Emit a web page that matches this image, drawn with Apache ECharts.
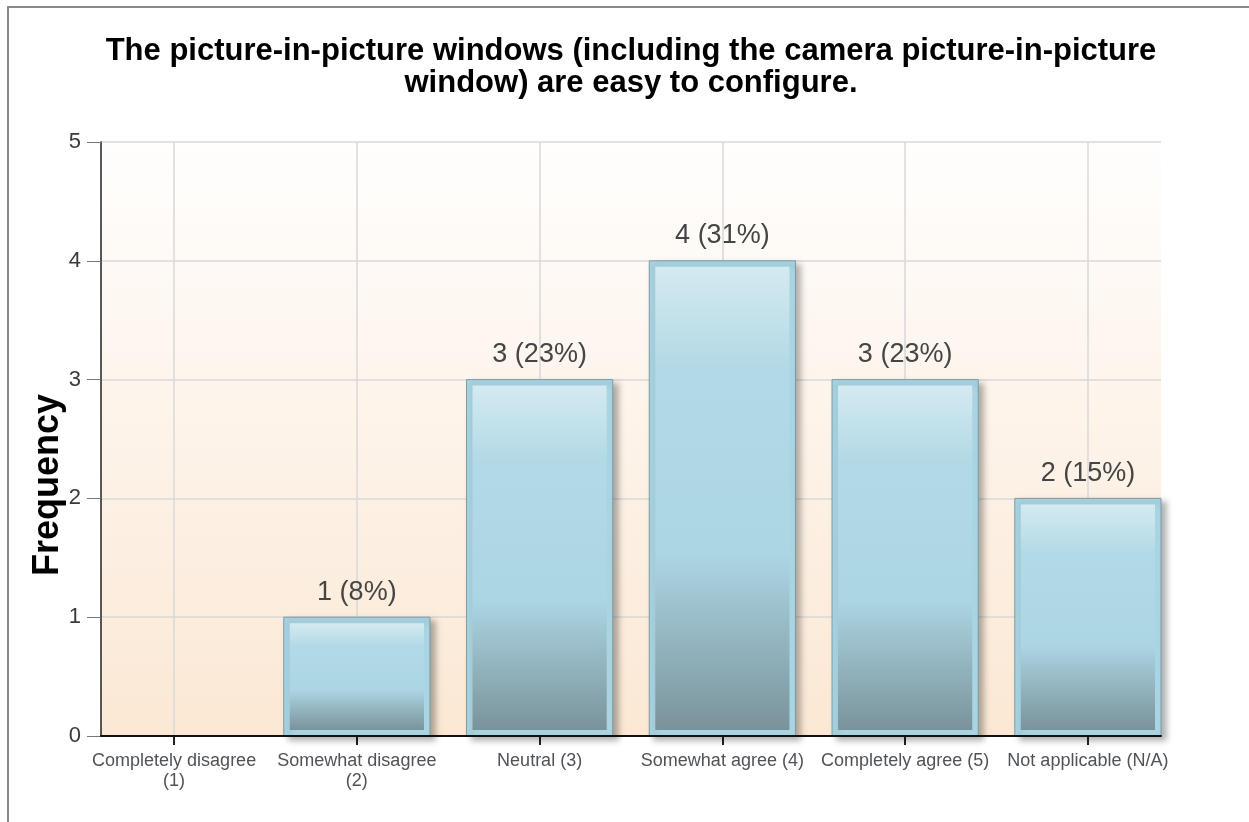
<!DOCTYPE html>
<html>
<head>
<meta charset="utf-8">
<script src="https://cdn.jsdelivr.net/npm/echarts@6/dist/echarts.min.js"></script>
<style>
  html, body { margin: 0; padding: 0; background: #ffffff; }
  #chart { width: 1249px; height: 822px; }
</style>
</head>
<body>
<div id="chart"></div>
<script>
// Survey answer categories, in display order
const categories = [
  'Completely disagree\n(1)',
  'Somewhat disagree\n(2)',
  'Neutral (3)',
  'Somewhat agree (4)',
  'Completely agree (5)',
  'Not applicable (N/A)'
];
// Number of respondents per answer
const frequencies = [0, 1, 3, 4, 3, 2];
// Share of respondents per answer, as printed above each bar
const percents = [0, 8, 23, 31, 23, 15];
// Frequency axis ticks
const yTicks = [0, 1, 2, 3, 4, 5];

const titleText = 'The picture-in-picture windows (including the camera picture-in-picture\nwindow) are easy to configure.';
const fontFamily = '"Liberation Sans", Arial, Helvetica, sans-serif';

const positions = categories.map((_, i) => i);
const barData = frequencies.map((v, i) => [i, v, percents[i]]);

// Framed bar: light-blue rim, gradient face, soft drop shadow, value label on top
function renderBar(params, api) {
  const v = api.value(1);
  if (!(v > 0)) return null;
  const x = api.value(0);
  const top = api.coord([x, v]);
  const base = api.coord([x, 0]);
  const w = api.size([0.8, 0])[0];
  const left = top[0] - w / 2;
  const h = base[1] - top[1];
  const inset = 6;
  return {
    type: 'group',
    children: [
      {
        type: 'rect',
        shape: { x: left, y: top[1], width: w, height: h },
        style: {
          fill: '#a9d5e3',
          stroke: '#7f9ba5',
          lineWidth: 1,
          shadowBlur: 6,
          shadowOffsetX: 5,
          shadowOffsetY: 4,
          shadowColor: 'rgba(0,0,0,0.3)'
        }
      },
      {
        type: 'rect',
        shape: { x: left + inset, y: top[1] + inset, width: w - 2 * inset, height: h - 2 * inset },
        style: {
          fill: new echarts.graphic.LinearGradient(0, 0, 0, 1, [
            { offset: 0, color: '#d4eaf1' },
            { offset: 0.22, color: '#b2d9e6' },
            { offset: 0.62, color: '#acd6e4' },
            { offset: 1, color: '#7a939b' }
          ])
        }
      },
      {
        type: 'text',
        x: top[0],
        y: top[1] - 25,
        style: {
          text: v + ' (' + api.value(2) + '%)',
          fontSize: 27,
          fontFamily: fontFamily,
          fill: '#454545',
          align: 'center',
          verticalAlign: 'middle'
        }
      }
    ]
  };
}

const chart = echarts.init(document.getElementById('chart'), null, { renderer: 'canvas' });

chart.setOption({
  animation: false,
  backgroundColor: '#ffffff',
  title: {
    text: titleText,
    left: 631,
    top: 35,
    textAlign: 'center',
    padding: 0,
    textStyle: {
      fontFamily: fontFamily,
      fontSize: 31,
      fontWeight: 'bold',
      color: '#000000',
      lineHeight: 32
    }
  },
  graphic: [
    {
      type: 'polyline',
      shape: { points: [[8, 822], [8, 7], [1249, 7]] },
      style: { stroke: '#8a8a8a', lineWidth: 2, fill: null },
      silent: true
    }
  ],
  grid: {
    left: 101,
    top: 142,
    width: 1060,
    height: 594,
    show: true,
    borderWidth: 0,
    backgroundColor: new echarts.graphic.LinearGradient(0, 0, 0, 1, [
      { offset: 0, color: '#fffefd' },
      { offset: 1, color: '#fbe8d4' }
    ])
  },
  xAxis: [
    {
      type: 'value',
      min: -0.4,
      max: 5.4,
      axisLine: { show: false, onZero: false },
      axisTick: {
        show: true,
        customValues: positions,
        length: 9,
        lineStyle: { color: '#222222', width: 2 }
      },
      axisLabel: {
        customValues: positions,
        formatter: (val) => categories[Math.round(val)],
        margin: 15,
        fontFamily: fontFamily,
        fontSize: 18,
        lineHeight: 20,
        color: '#4f5358',
        align: 'center'
      },
      splitLine: {
        show: true,
        lineStyle: { color: '#d9d9d9', width: 1.5 }
      }
    },
    {
      type: 'value',
      position: 'bottom',
      min: -0.4,
      max: 5.4,
      z: 10,
      silent: true,
      axisLine: { show: true, onZero: false, lineStyle: { color: '#111111', width: 2 } },
      axisTick: { show: false },
      axisLabel: { show: false },
      splitLine: { show: false }
    }
  ],
  yAxis: {
    type: 'value',
    min: yTicks[0],
    max: yTicks[yTicks.length - 1],
    interval: 1,
    name: 'Frequency',
    nameLocation: 'middle',
    nameRotate: 90,
    nameGap: 35,
    nameMoveOverlap: false,
    nameTextStyle: {
      fontFamily: fontFamily,
      fontSize: 36,
      fontWeight: 'bold',
      color: '#000000',
      padding: [0, 92, 0, 0]
    },
    axisLine: { show: true, onZero: false, lineStyle: { color: '#222222', width: 1.5 } },
    axisTick: { show: true, length: 14, lineStyle: { color: '#777777' } },
    axisLabel: {
      margin: 20,
      fontFamily: fontFamily,
      fontSize: 22,
      color: '#3a3a3a'
    },
    splitLine: { show: true, lineStyle: { color: '#d9d9d9', width: 1.5 } }
  },
  series: [
    {
      type: 'custom',
      xAxisIndex: 0,
      yAxisIndex: 0,
      renderItem: renderBar,
      encode: { x: 0, y: 1 },
      data: barData
    }
  ]
});
</script>
</body>
</html>
